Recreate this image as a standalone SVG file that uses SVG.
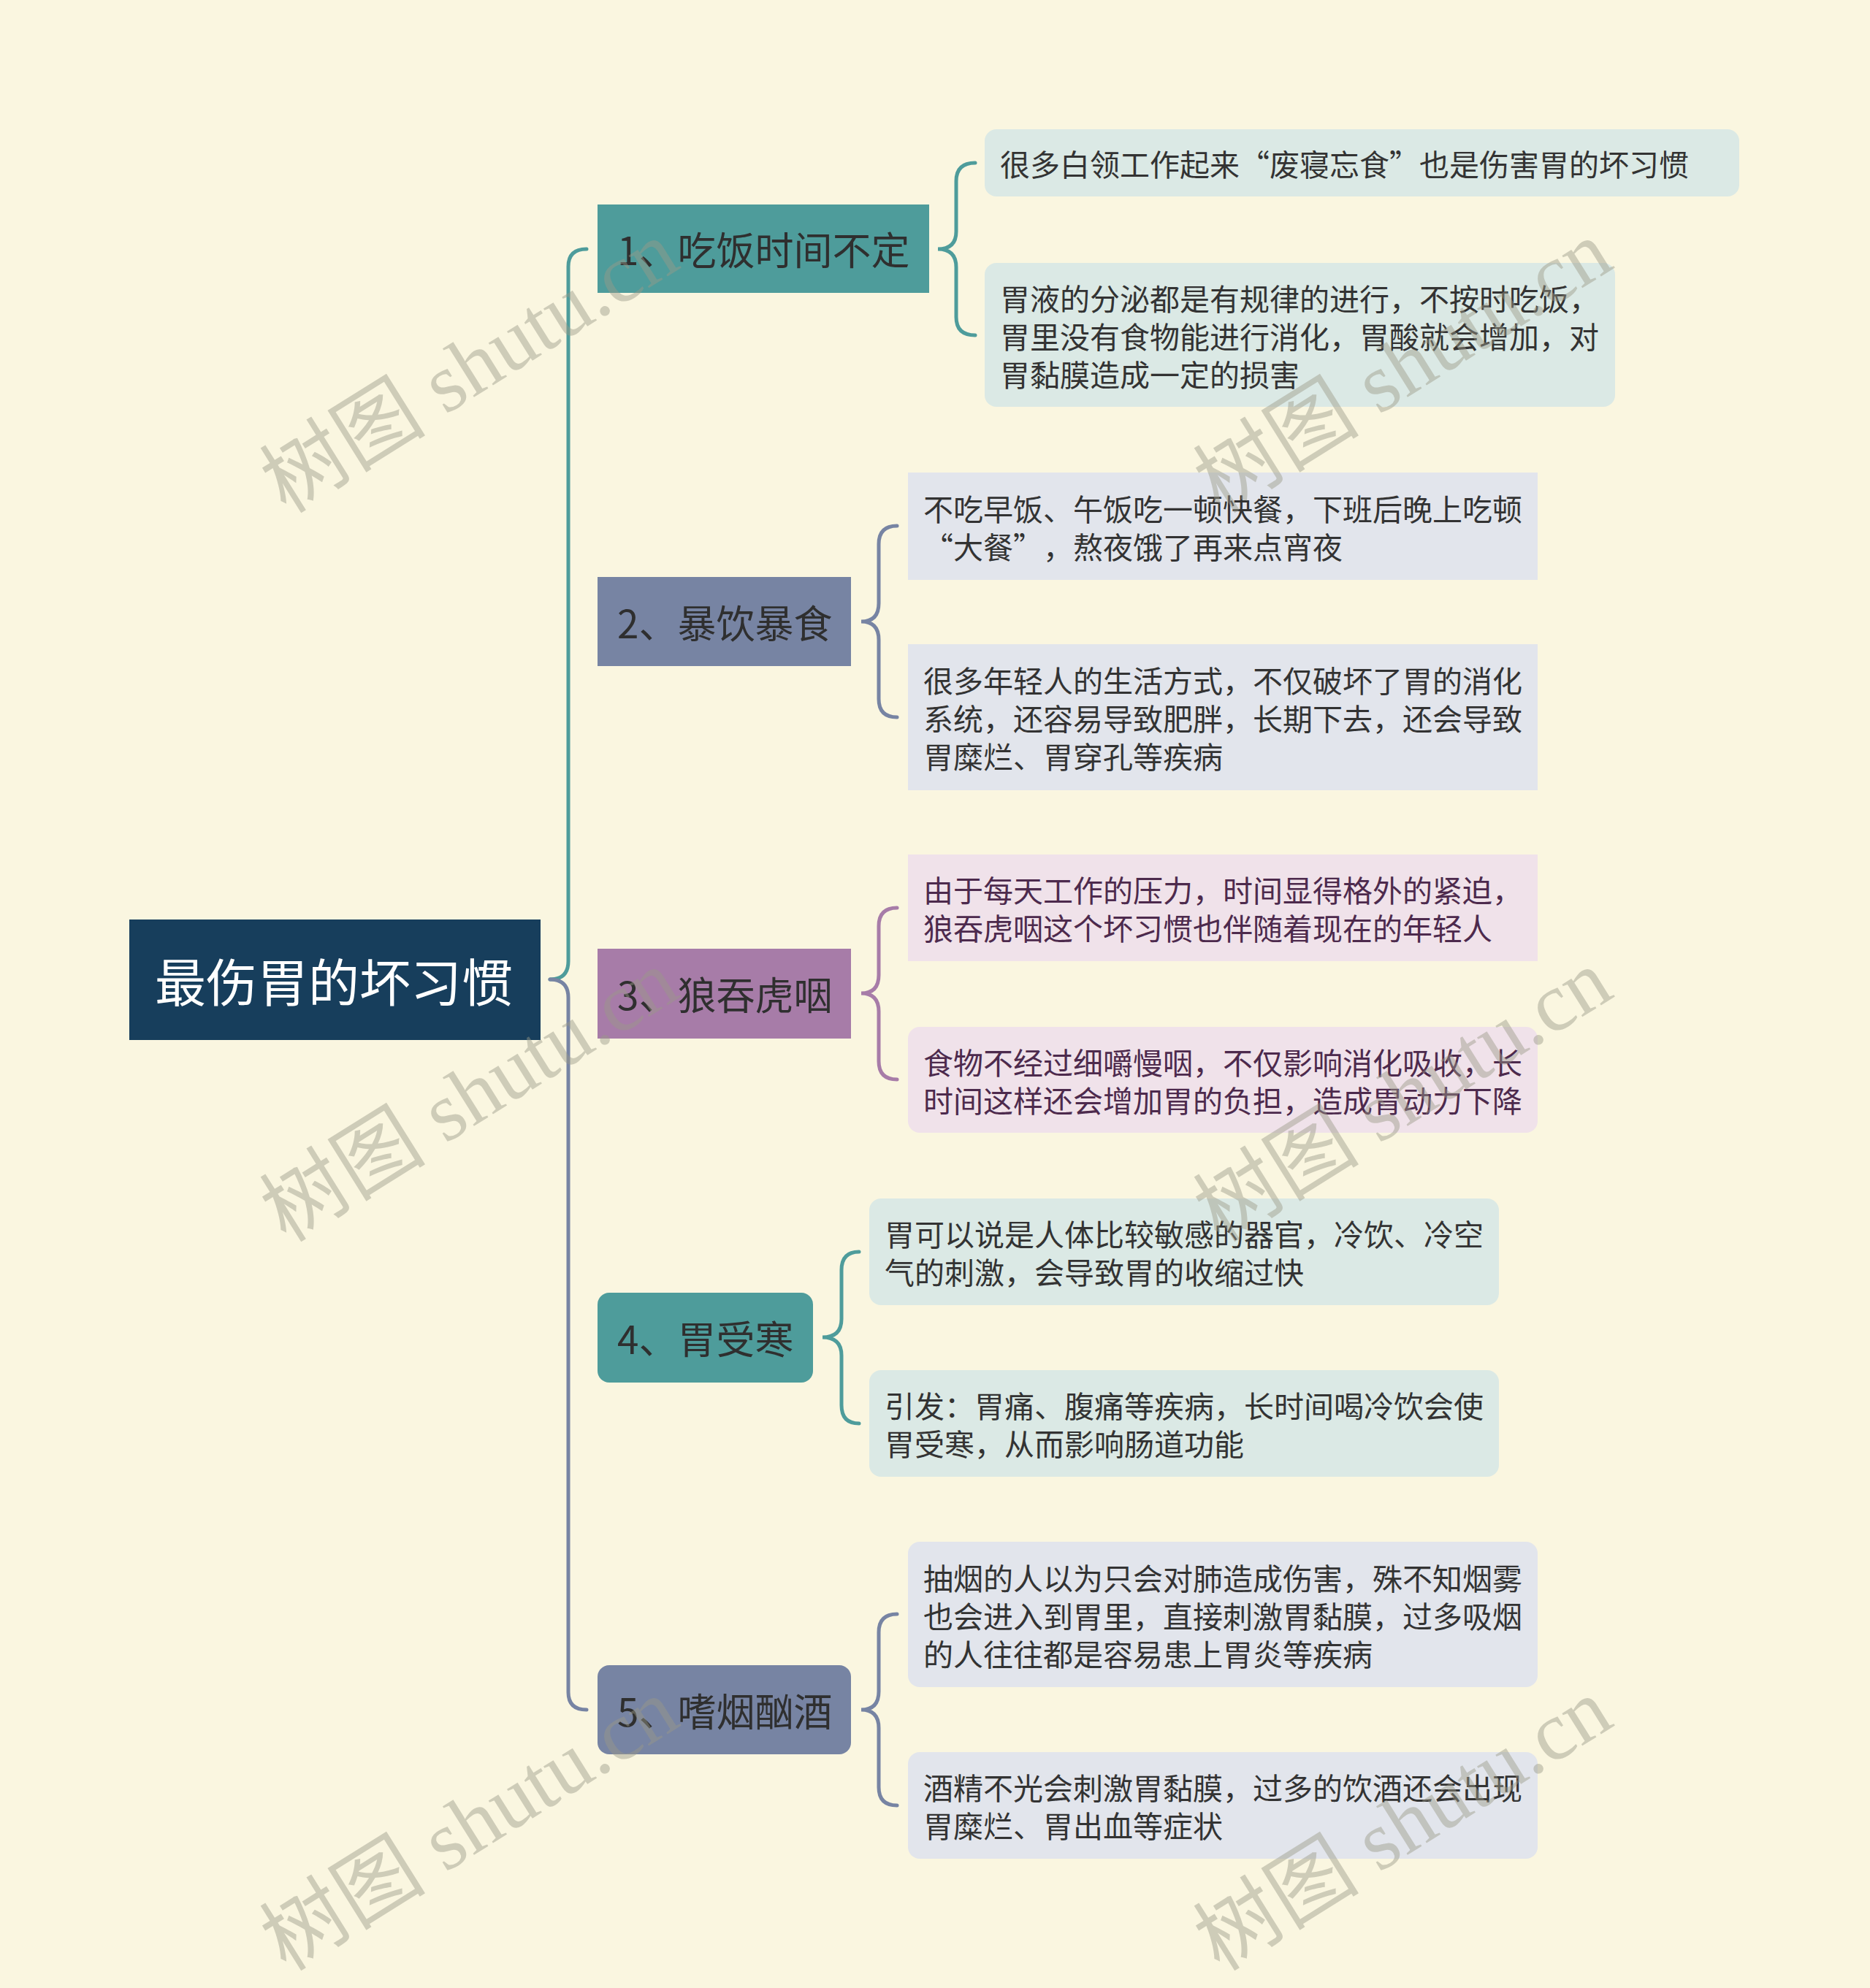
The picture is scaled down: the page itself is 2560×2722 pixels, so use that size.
<svg xmlns="http://www.w3.org/2000/svg" width="2560" height="2722" viewBox="0 0 2560 2722">
<style>
.bg{fill:#faf6e0}
.t{font-family:"Noto Sans CJK SC","Noto Sans",sans-serif;dominant-baseline:central;text-spacing-trim:space-all}
.root-t{font-size:70px;fill:#ffffff}
.main-t{font-size:53px;fill:#2f2f2f}
.leaf-t{font-size:41px;fill:#333333}
.leaf-p{font-size:41px;fill:#4d2a4d}
.teal{fill:#4e9c9b}
.slate{fill:#7784a3}
.purple{fill:#a77ca8}
.lteal{fill:#dbe9e5}
.lslate{fill:#e2e5ec}
.lpurple{fill:#f0e2ea}
.c{fill:none;stroke-width:5;stroke-linecap:round}
.cteal{stroke:#4e9c9b}
.cslate{stroke:#7784a3}
.cpurple{stroke:#a77ca8}
.wm{font-family:"Liberation Serif","Noto Sans CJK SC",serif;font-size:114px;fill:#9b9a88;opacity:0.45;text-anchor:middle}
</style>
<rect class="bg" x="0" y="0" width="2560" height="2722"/>

<g id="connectors">
  <!-- root to main nodes (branches 2-4 run along the shared trunk) -->
  <path class="c cteal" d="M753,1341 Q778,1341 778,1316 L778,365 Q778,341 803,341"/>
  <path class="c cslate" d="M753,1341 Q778,1341 778,1366 L778,2317 Q778,2341 803,2341"/>
  <!-- node 1 brace -->
  <path class="c cteal" d="M1335,223 Q1309,223 1309,248 L1309,317 Q1309,341 1284,341 Q1309,341 1309,366 L1309,434 Q1309,459 1335,459"/>
  <!-- node 2 brace -->
  <path class="c cslate" d="M1228,720 Q1203,720 1203,745 L1203,826 Q1203,851 1179,851 Q1203,851 1203,876 L1203,957 Q1203,982 1228,982"/>
  <!-- node 3 brace -->
  <path class="c cpurple" d="M1228,1243 Q1203,1243 1203,1268 L1203,1335 Q1203,1360 1179,1360 Q1203,1360 1203,1385 L1203,1453 Q1203,1478 1228,1478"/>
  <!-- node 4 brace -->
  <path class="c cteal" d="M1176,1714 Q1152,1714 1152,1739 L1152,1806 Q1152,1831 1126,1831 Q1152,1831 1152,1856 L1152,1924 Q1152,1949 1176,1949"/>
  <!-- node 5 brace -->
  <path class="c cslate" d="M1228,2210 Q1203,2210 1203,2235 L1203,2316 Q1203,2341 1179,2341 Q1203,2341 1203,2366 L1203,2447 Q1203,2472 1228,2472"/>
</g>

<g id="root">
  <rect x="177" y="1259" width="563" height="165" fill="#173e5c"/>
  <text class="t root-t" x="212" y="1341">最伤胃的坏习惯</text>
</g>

<g id="n1">
  <rect class="teal" x="818" y="280" width="454" height="121"/>
  <text class="t main-t" x="845" y="340">1、吃饭时间不定</text>
</g>
<g id="n1a">
  <rect class="lteal" x="1348" y="177" width="1033" height="92" rx="16"/>
  <text class="t leaf-t" x="1369" y="223">很多白领工作起来“废寝忘食”也是伤害胃的坏习惯</text>
</g>
<g id="n1b">
  <rect class="lteal" x="1348" y="360" width="863" height="197" rx="16"/>
  <text class="t leaf-t" x="1369" y="406.5">胃液的分泌都是有规律的进行，不按时吃饭，</text>
  <text class="t leaf-t" x="1369" y="458.5">胃里没有食物能进行消化，胃酸就会增加，对</text>
  <text class="t leaf-t" x="1369" y="510.5">胃黏膜造成一定的损害</text>
</g>

<g id="n2">
  <rect class="slate" x="818" y="790" width="347" height="122"/>
  <text class="t main-t" x="845" y="851">2、暴饮暴食</text>
</g>
<g id="n2a">
  <rect class="lslate" x="1243" y="647" width="862" height="147"/>
  <text class="t leaf-t" x="1264" y="694.5">不吃早饭、午饭吃一顿快餐，下班后晚上吃顿</text>
  <text class="t leaf-t" x="1264" y="746.5">“大餐”，熬夜饿了再来点宵夜</text>
</g>
<g id="n2b">
  <rect class="lslate" x="1243" y="882" width="862" height="200"/>
  <text class="t leaf-t" x="1264" y="930">很多年轻人的生活方式，不仅破坏了胃的消化</text>
  <text class="t leaf-t" x="1264" y="982">系统，还容易导致肥胖，长期下去，还会导致</text>
  <text class="t leaf-t" x="1264" y="1034">胃糜烂、胃穿孔等疾病</text>
</g>

<g id="n3">
  <rect class="purple" x="818" y="1299" width="347" height="123"/>
  <text class="t main-t" x="845" y="1360">3、狼吞虎咽</text>
</g>
<g id="n3a">
  <rect class="lpurple" x="1243" y="1170" width="862" height="146"/>
  <text class="t leaf-p" x="1264" y="1217">由于每天工作的压力，时间显得格外的紧迫，</text>
  <text class="t leaf-p" x="1264" y="1269">狼吞虎咽这个坏习惯也伴随着现在的年轻人</text>
</g>
<g id="n3b">
  <rect class="lpurple" x="1243" y="1406" width="862" height="145" rx="16"/>
  <text class="t leaf-p" x="1264" y="1452.5">食物不经过细嚼慢咽，不仅影响消化吸收，长</text>
  <text class="t leaf-p" x="1264" y="1504.5">时间这样还会增加胃的负担，造成胃动力下降</text>
</g>

<g id="n4">
  <rect class="teal" x="818" y="1770" width="295" height="123" rx="16"/>
  <text class="t main-t" x="845" y="1831">4、胃受寒</text>
</g>
<g id="n4a">
  <rect class="lteal" x="1190" y="1641" width="862" height="146" rx="16"/>
  <text class="t leaf-t" x="1211" y="1688">胃可以说是人体比较敏感的器官，冷饮、冷空</text>
  <text class="t leaf-t" x="1211" y="1740">气的刺激，会导致胃的收缩过快</text>
</g>
<g id="n4b">
  <rect class="lteal" x="1190" y="1876" width="862" height="146" rx="16"/>
  <text class="t leaf-t" x="1211" y="1923">引发：胃痛、腹痛等疾病，长时间喝冷饮会使</text>
  <text class="t leaf-t" x="1211" y="1975">胃受寒，从而影响肠道功能</text>
</g>

<g id="n5">
  <rect class="slate" x="818" y="2280" width="347" height="122" rx="16"/>
  <text class="t main-t" x="845" y="2341">5、嗜烟酗酒</text>
</g>
<g id="n5a">
  <rect class="lslate" x="1243" y="2111" width="862" height="199" rx="16"/>
  <text class="t leaf-t" x="1264" y="2158.5">抽烟的人以为只会对肺造成伤害，殊不知烟雾</text>
  <text class="t leaf-t" x="1264" y="2210.5">也会进入到胃里，直接刺激胃黏膜，过多吸烟</text>
  <text class="t leaf-t" x="1264" y="2262.5">的人往往都是容易患上胃炎等疾病</text>
</g>
<g id="n5b">
  <rect class="lslate" x="1243" y="2399" width="862" height="146" rx="16"/>
  <text class="t leaf-t" x="1264" y="2446">酒精不光会刺激胃黏膜，过多的饮酒还会出现</text>
  <text class="t leaf-t" x="1264" y="2498">胃糜烂、胃出血等症状</text>
</g>

<g id="watermarks">
  <text class="wm" transform="translate(663,535) rotate(-32)">树图 shutu.cn</text>
  <text class="wm" transform="translate(663,1533) rotate(-32)">树图 shutu.cn</text>
  <text class="wm" transform="translate(663,2531) rotate(-32)">树图 shutu.cn</text>
  <text class="wm" transform="translate(1941,535) rotate(-32)">树图 shutu.cn</text>
  <text class="wm" transform="translate(1941,1533) rotate(-32)">树图 shutu.cn</text>
  <text class="wm" transform="translate(1941,2531) rotate(-32)">树图 shutu.cn</text>
</g>
</svg>
